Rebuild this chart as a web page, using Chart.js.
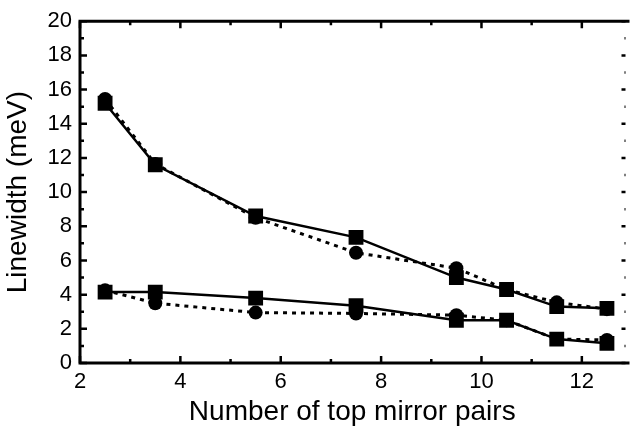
<!DOCTYPE html>
<html>
<head>
<meta charset="utf-8">
<script src="https://cdn.jsdelivr.net/npm/chart.js@4"></script>
<style>
  html, body { margin: 0; padding: 0; background: #fff; }
  #wrap { width: 635px; height: 429px; position: relative; }
</style>
</head>
<body>
<div id="wrap"><canvas id="lwChart"></canvas></div>
<script>
// mirror pairs
const pairs = [2.5, 3.5, 5.5, 7.5, 9.5, 10.5, 11.5, 12.5];
// upper branch
const upperSquares = [15.2, 11.6, 8.6, 7.35, 5.0, 4.3, 3.3, 3.2];
const upperCircles = [15.45, 11.65, 8.5, 6.45, 5.55, 4.3, 3.55, 3.15];
// lower branch
const lowerSquares = [4.15, 4.15, 3.8, 3.35, 2.5, 2.5, 1.4, 1.15];
const lowerCircles = [4.25, 3.5, 2.95, 2.9, 2.8, 2.5, 1.4, 1.35];
const xTicks = [2, 4, 6, 8, 10, 12];
const yTicks = [0, 2, 4, 6, 8, 10, 12, 14, 16, 18, 20];

const font = "'Liberation Sans', Arial, sans-serif";

function pts(ys) {
  return pairs.map((x, i) => ({ x: x, y: ys[i] }));
}

function series(label, ys, square) {
  return {
    label: label,
    data: pts(ys),
    borderColor: "#000",
    backgroundColor: "#000",
    borderWidth: square ? 2.5 : 3,
    borderDash: square ? [] : [4, 5],
    pointStyle: square ? "rect" : "circle",
    pointRadius: square ? 10.5 : 7,
    pointBorderWidth: 0,
    tension: 0,
  };
}

// frame with inward ticks on all four sides
const frame = {
  id: "frame",
  afterDraw(chart) {
    const { ctx, chartArea: a } = chart;
    const xs = chart.scales.x, ys = chart.scales.y;
    ctx.save();
    ctx.strokeStyle = "#000";
    ctx.lineWidth = 3;
    ctx.beginPath();
    ctx.moveTo(a.left, a.bottom);
    ctx.lineTo(a.left, a.top);
    ctx.lineTo(a.right + 5, a.top);
    ctx.moveTo(a.left - 1.5, a.bottom);
    ctx.lineTo(a.right + 5, a.bottom);
    ctx.stroke();
    ctx.lineWidth = 2.5;
    ctx.beginPath();
    for (let v = 2; v <= 13; v++) {
      const px = xs.getPixelForValue(v);
      if (px > a.right + 1) continue;
      const len = v % 2 === 0 ? 7 : 4;
      ctx.moveTo(px, a.bottom); ctx.lineTo(px, a.bottom - len);
      ctx.moveTo(px, a.top); ctx.lineTo(px, a.top + len);
    }
    for (let v = 0; v <= 20; v++) {
      const py = ys.getPixelForValue(v);
      const len = v % 2 === 0 ? 7 : 4;
      ctx.moveTo(a.left, py); ctx.lineTo(a.left + len, py);
      ctx.moveTo(a.right + 1, py); ctx.lineTo(a.right + 1 - len + 3, py);
    }
    ctx.stroke();
    ctx.restore();
  },
};

new Chart(document.getElementById("lwChart").getContext("2d"), {
  type: "line",
  data: {
    datasets: [
      series("upper circles", upperCircles, false),
      series("upper squares", upperSquares, true),
      series("lower circles", lowerCircles, false),
      series("lower squares", lowerSquares, true),
    ],
  },
  options: {
    responsive: true,
    maintainAspectRatio: false,
    animation: false,
    layout: { padding: { top: 20, right: 0, left: 0, bottom: 0 } },
    plugins: { legend: { display: false }, tooltip: { enabled: false } },
    scales: {
      x: {
        type: "linear",
        min: 2,
        max: 12.85,
        afterBuildTicks: (s) => { s.ticks = xTicks.map((v) => ({ value: v })); },
        afterFit: (s) => { s.height = 66; },
        ticks: { font: { family: font, size: 22 }, color: "#000", padding: 6, maxRotation: 0 },
        grid: { display: false, drawTicks: false },
        border: { display: false },
        title: {
          display: true,
          text: "Number of top mirror pairs",
          font: { family: font, size: 28 },
          color: "#000",
          padding: 0,
        },
      },
      y: {
        min: 0,
        max: 20,
        afterBuildTicks: (s) => { s.ticks = yTicks.map((v) => ({ value: v })); },
        afterFit: (s) => { s.width = 80; },
        ticks: { font: { family: font, size: 22 }, color: "#000", padding: 8 },
        grid: { display: false, drawTicks: false },
        border: { display: false },
        title: {
          display: true,
          text: "Linewidth (meV)",
          font: { family: font, size: 28 },
          color: "#000",
          padding: { top: 1, bottom: 0 },
        },
      },
    },
  },
  plugins: [frame],
});
</script>
</body>
</html>
